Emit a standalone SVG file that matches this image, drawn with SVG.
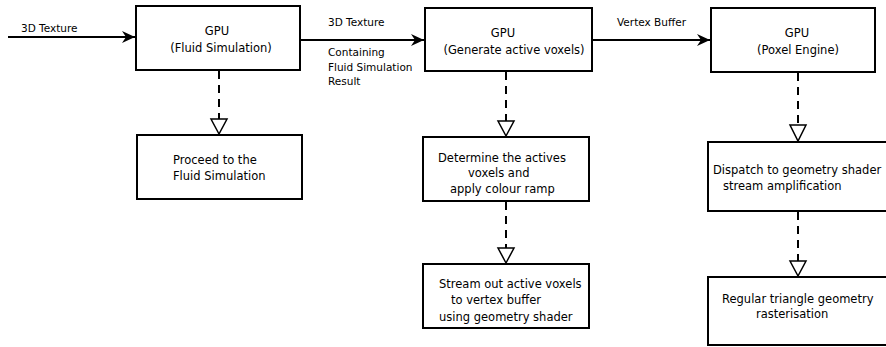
<svg xmlns="http://www.w3.org/2000/svg" width="886" height="347" viewBox="0 0 886 347">
<defs>
<style>
.box{fill:#fff;stroke:#000;stroke-width:2}
.t{font-family:"DejaVu Sans",Verdana,sans-serif;font-size:11.5px;fill:#000}
.l{font-family:"DejaVu Sans",Verdana,sans-serif;font-size:10.5px;fill:#000}
.c{text-anchor:middle}
.solid{stroke:#000;stroke-width:2;fill:none}
.dash{stroke:#000;stroke-width:2;fill:none;stroke-dasharray:8 6}
.tri{fill:#fff;stroke:#000;stroke-width:1.5}
</style>
<marker id="arr" markerWidth="14" markerHeight="12" refX="13" refY="6" orient="auto" markerUnits="userSpaceOnUse">
<path d="M0,0 L13,6 L0,12 L4,6 Z" fill="#000"/>
</marker>
</defs>
<g id="connectors">
<line class="solid" x1="8" y1="37" x2="135" y2="37" marker-end="url(#arr)"/>
<line class="solid" x1="300" y1="40" x2="424" y2="40" marker-end="url(#arr)"/>
<line class="solid" x1="592" y1="40" x2="710" y2="40" marker-end="url(#arr)"/>
<line class="dash" x1="219" y1="71" x2="219" y2="119"/>
<polygon class="tri" points="211,119 227,119 219,134"/>
<line class="dash" x1="506" y1="72" x2="506" y2="121"/>
<polygon class="tri" points="498,121 514,121 506,136"/>
<line class="dash" x1="506" y1="202" x2="506" y2="248"/>
<polygon class="tri" points="498,248 514,248 506,263"/>
<line class="dash" x1="798" y1="73" x2="798" y2="125"/>
<polygon class="tri" points="790,125 806,125 798,141"/>
<line class="dash" x1="798" y1="212" x2="798" y2="261"/>
<polygon class="tri" points="790,261 806,261 798,276"/>
<text class="l" x="21" y="32">3D Texture</text>
<text class="l" x="328" y="26">3D Texture</text>
<text class="l" x="328" y="56">Containing</text>
<text class="l" x="328" y="71">Fluid Simulation</text>
<text class="l" x="328" y="85">Result</text>
<text class="l" x="617" y="26">Vertex Buffer</text>
</g>
<g id="gpu1">
<rect class="box" x="136" y="6" width="164" height="64"/>
<text class="t c" x="217" y="35">GPU</text>
<text class="t c" x="221" y="52">(Fluid Simulation)</text>
</g>
<g id="gpu2">
<rect class="box" x="425" y="8" width="167" height="63"/>
<text class="t c" x="503" y="37">GPU</text>
<text class="t c" x="514" y="54">(Generate active voxels)</text>
</g>
<g id="gpu3">
<rect class="box" x="711" y="8" width="164" height="64"/>
<text class="t c" x="797" y="37">GPU</text>
<text class="t c" x="798" y="54">(Poxel Engine)</text>
</g>
<g id="proceed">
<rect class="box" x="137" y="135" width="165" height="64"/>
<text class="t" x="173" y="164">Proceed to the</text>
<text class="t" x="173" y="180">Fluid Simulation</text>
</g>
<g id="determine">
<rect class="box" x="423" y="137" width="166" height="64"/>
<text class="t" x="438" y="162">Determine the actives</text>
<text class="t" x="468" y="177">voxels and</text>
<text class="t" x="450" y="193">apply colour ramp</text>
</g>
<g id="stream">
<rect class="box" x="423" y="264" width="166" height="64"/>
<text class="t" x="439" y="288">Stream out active voxels</text>
<text class="t" x="451" y="304">to vertex buffer</text>
<text class="t" x="439" y="321">using geometry shader</text>
</g>
<g id="dispatch">
<rect class="box" x="708" y="142" width="190" height="69"/>
<text class="t" x="713" y="174">Dispatch to geometry shader</text>
<text class="t" x="723" y="190">stream amplification</text>
</g>
<g id="regular">
<rect class="box" x="708" y="277" width="190" height="68"/>
<text class="t" x="722" y="303">Regular triangle geometry</text>
<text class="t" x="756" y="318">rasterisation</text>
</g>
</svg>
